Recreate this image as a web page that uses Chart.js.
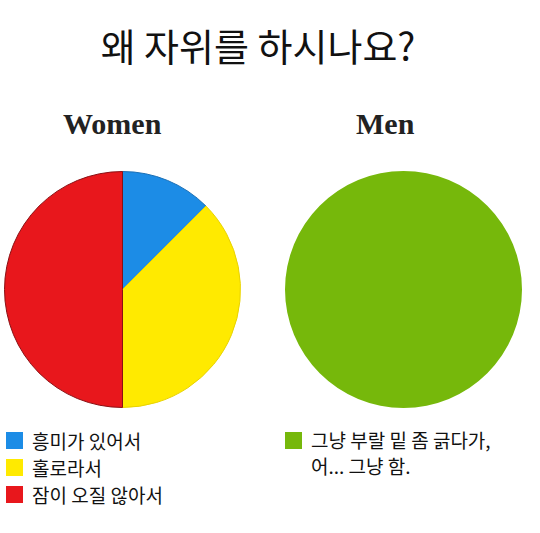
<!DOCTYPE html>
<html>
<head>
<meta charset="utf-8">
<script src="https://cdn.jsdelivr.net/npm/chart.js@4"></script>
<style>
   body { margin:0; background:#fff; width:540px; height:533px; position:relative; overflow:hidden;
          font-family:"Noto Sans CJK KR","Noto Sans",sans-serif; }
   .abs { position:absolute; }
   #title { left:0; width:516px; top:17px; text-align:center; font-size:38px; font-weight:400; color:#111; }
   .sub { top:107px; font-family:"Liberation Serif","DejaVu Serif",serif; font-weight:bold; font-size:30px; color:#222; }
   .legend { font-size:19px; color:#111; }
   .legend .row { position:relative; height:27px; line-height:21px; padding-left:26px; white-space:nowrap; }
   .legend .box { position:absolute; left:0; top:2px; width:17px; height:17px; }
</style>
</head>
<body>

<div id="title" class="abs">왜 자위를 하시나요?</div>
<div class="abs sub" style="left:63px;">Women</div>
<div class="abs sub" style="left:356px;">Men</div>

<div class="abs" style="left:4px;top:171px;width:237px;height:237px;"><canvas id="womenPie"></canvas></div>
<div class="abs" style="left:285px;top:171px;width:237px;height:237px;"><canvas id="menPie"></canvas></div>

<div id="womenLegend" class="abs legend" style="left:6px;top:430px;"></div>
<div id="menLegend" class="abs legend" style="left:285px;top:430px;"></div>

<script>

/* data */
const womenLabels = ["흥미가 있어서", "홀로라서", "잠이 오질 않아서"];
const womenValues = [12.5, 37.5, 50];
const womenColors = ["#1c8ce6", "#ffea00", "#e8171c"];
const womenBorders = ["#1a6fb5", "#e8d200", "#8a1014"];

const menLabels = ["그냥 부랄 밑 좀 긁다가,\n어... 그냥 함."];
const menValues = [100];
const menColors = ["#76b80b"];


function makePie(id, labels, values, colors, borders, bw){

   let ctx =
      document.getElementById(id).getContext("2d");

   return new Chart(ctx, {

      type: "pie",

      data: {
         labels: labels,
         datasets: [{
            data: values,
            backgroundColor: colors,
            borderColor: borders,
            borderWidth: bw
         }]
      },

      options: {
         responsive: true,
         maintainAspectRatio: false,
         animation: false,
         layout: { padding: 0 },
         plugins: {
            legend: { display: false },
            tooltip: { enabled: false }
         }
      }

   });

}

function makeLegend(id, labels, colors){

   let box = document.getElementById(id);

   labels.forEach((label, i) => {

      let row = document.createElement("div");
      row.className = "row";

      let sq = document.createElement("span");
      sq.className = "box";
      sq.style.background = colors[i];

      row.appendChild(sq);

      let lines = label.split("\n");

      lines.forEach((line, j) => {
         if(j > 0) row.appendChild(document.createElement("br"));
         row.appendChild(document.createTextNode(line));
      });

      /* two-line label: looser spacing */
      if(lines.length > 1){
         row.style.height = "auto";
         row.style.lineHeight = "26px";
         row.style.marginTop = "-3px";
         sq.style.top = "5px";
      }

      box.appendChild(row);

   });

}

makePie("womenPie", womenLabels, womenValues, womenColors, womenBorders, 1);
/* single slice: no border, otherwise a radial seam shows */
makePie("menPie", menLabels, menValues, menColors, menColors, 0);

makeLegend("womenLegend", womenLabels, womenColors);
makeLegend("menLegend", menLabels, menColors);

</script>
</body>
</html>
